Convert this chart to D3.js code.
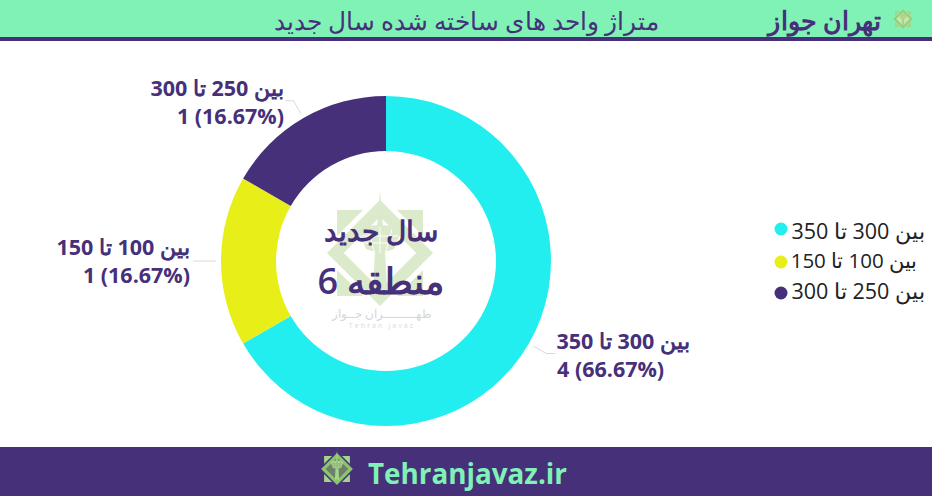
<!DOCTYPE html>
<html><head><meta charset="utf-8">
<script src="https://cdn.jsdelivr.net/npm/d3@7/dist/d3.min.js"></script>
<style>html,body{margin:0;padding:0;background:#fff;overflow:hidden}svg{display:block}text{font-family:"Open Sans","Noto Sans",sans-serif}</style>
</head><body><svg id="c" width="932" height="496"></svg>
<script>
const categories=["بین 300 تا 350","بین 100 تا 150","بین 250 تا 300"];
const values=[4,1,1];
const percents=["66.67%","16.67%","16.67%"];
const colors=["#22EDEF","#E8EE17","#46307A"];
const title="متراژ واحد های ساخته شده سال جدید";
const brand="تهران جواز";
const centerLines=["سال جدید","منطقه 6"];
const footerText="Tehranjavaz.ir";

const svg=d3.select("#c");
const PURPLE="#46307A",MINT="#80F2B6";
svg.append("rect").attr("width",932).attr("height",37).attr("fill",MINT);
svg.append("rect").attr("y",37).attr("width",932).attr("height",4).attr("fill",PURPLE);
svg.append("rect").attr("y",447).attr("width",932).attr("height",49).attr("fill",PURPLE);

function logo(x,y,s,o,c1,c2,halo,core){
  const g=svg.append("g").attr("transform",`translate(${x},${y}) scale(${s})`).attr("opacity",o);
  g.append("path").attr("fill-rule","evenodd").attr("fill",c1)
   .attr("d","M-43,-43H43V43H-43Z M-30,-30V30H30V-30Z");
  g.append("path").attr("fill",halo).attr("d","M0,-60L60,0L0,60L-60,0Z");
  g.append("path").attr("fill-rule","evenodd").attr("fill",c2)
   .attr("d","M0,-53L53,0L0,53L-53,0Z M0,-36L-36,0L0,36L36,0Z");
  g.append("path").attr("fill",core).attr("d","M0,-36L36,0L0,36L-36,0Z");
  g.append("path").attr("fill",c1).attr("d","M0,-62L3,-26L-3,-26Z M-22,-24Q0,-32 22,-24L14,-4Q0,2 -14,-4Z M-5,-2H5L7,36H-7Z");
  g.append("path").attr("fill","none").attr("stroke",core).attr("stroke-width",1)
   .attr("d","M-18,-17H18 M-12,-24L-6,-2 M12,-24L6,-2 M0,-26V0 M-16,-10H16");
  return g;
}
logo(903,19,0.185,1,"#A6D488","#9CCB78",MINT,"#C7E6A8");
logo(380,253,1,0.42,"#A8CF86","#A8CF86","#fff","#fff");
logo(337,469,0.3,1,"#A6D488","#8CC46A",PURPLE,"#6E7F6C");

// Watermark captions
svg.append("text").attr("x",382).attr("y",318).attr("text-anchor","middle").attr("font-size",12).attr("fill","#D6D6D6").text("طهــــــــران جــواز");
svg.append("text").attr("x",382).attr("y",328).attr("text-anchor","middle").attr("font-size",7).attr("letter-spacing",2.1).attr("fill","#DADADA").text("Tehran javaz");

// Header text
const titleWidth=385;
svg.append("text").attr("x",659).attr("y",29.5).attr("direction","rtl").attr("font-size",25).attr("font-weight",500).attr("fill",PURPLE)
  .attr("textLength",titleWidth).attr("lengthAdjust","spacingAndGlyphs").text(title);
svg.append("text").attr("transform","translate(881,30) scale(0.97,1)").attr("direction","rtl").attr("font-size",26).attr("font-weight",600).attr("fill",PURPLE).text(brand);

// Donut
const cx=386,cy=261,R=165,r=110;
const pie=d3.pie().sort(null).value(d=>d);
const arcs=pie(values);
const arc=d3.arc().innerRadius(r).outerRadius(R);
const g=svg.append("g").attr("transform",`translate(${cx},${cy})`);
g.selectAll("path.s").data(arcs).join("path").attr("class","s").attr("d",arc).attr("fill",(d,i)=>colors[i]);

// Leaders
const a1=d3.arc().innerRadius(170).outerRadius(170),a2=d3.arc().innerRadius(185).outerRadius(185);
const hLen=[9,8,8];
g.selectAll("path.l").data(arcs).join("path").attr("class","l").attr("fill","none").attr("stroke","#D9D9D9")
 .attr("d",(d,i)=>{
   const p=a1.centroid(d),q=a2.centroid(d),s=q[0]>0?1:-1;
   return d3.line()([p,q,[q[0]+s*hLen[i],q[1]]]);
 });

// Labels
const labelPos=[[690,348.5],[190,255],[284,96]];
arcs.forEach((d,i)=>{
  const [x,y]=labelPos[i];
  const t=svg.append("g").attr("fill",PURPLE).attr("font-size",21.5).attr("font-weight",700);
  t.append("text").attr("x",x).attr("y",y).attr("direction","rtl").text(categories[i]);
  const second=t.append("text").attr("y",y+28).attr("direction","ltr").text(`${values[i]} (${percents[i]})`);
  if(i===0) second.attr("x",557); else second.attr("x",x).attr("text-anchor","end");
});

// Center
svg.append("text").attr("x",381).attr("y",241).attr("text-anchor","middle").attr("font-size",28).attr("font-weight",600).attr("fill",PURPLE).text(centerLines[0]);
svg.append("text").attr("x",381).attr("y",294).attr("text-anchor","middle").attr("font-size",36).attr("font-weight",600).attr("fill",PURPLE).text(centerLines[1]);

// Legend
const legY=[229,262,293],legBase=[239,268,299],legRight=[925,917,925],legSize=[21.5,20.5,21.5];
categories.forEach((c,i)=>{
  svg.append("circle").attr("cx",781).attr("cy",legY[i]).attr("r",6.5).attr("fill",colors[i]);
  svg.append("text").attr("x",legRight[i]).attr("y",legBase[i]).attr("direction","rtl").attr("font-size",legSize[i]).attr("fill","#222").text(c);
});

// Footer
svg.append("text").attr("x",368).attr("y",484).attr("font-size",27.8).attr("font-weight",700).attr("fill",MINT).text(footerText);
</script></body></html>
